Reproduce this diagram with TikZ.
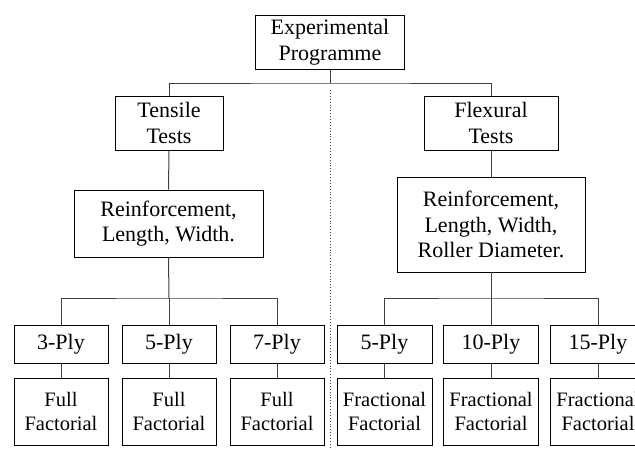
\documentclass[tikz,border=0pt]{standalone}
\usepackage{fontspec}
\setmainfont{Liberation Serif}
\begin{document}
\begin{tikzpicture}[x=1pt,y=-1pt,
  box/.style={draw=black,line width=0.8pt,rectangle,inner sep=0pt,align=center,
    font=\fontsize{22}{25.5}\selectfont},
  fbox/.style={box,font=\fontsize{20.5}{24}\selectfont},
  conn/.style={draw=black!75,line width=1pt},
  sep/.style={draw=black!70,line width=0.9pt,dotted}]
\useasboundingbox (0,0) rectangle (635,450);
\clip (0,0) rectangle (635,450);
\fill[white] (0,0) rectangle (635,450);
% top
\node[box,minimum width=149pt,minimum height=54pt] (exp) at (330,42) {Experimental\\Programme};
\node[box,minimum width=108pt,minimum height=54pt] (ten) at (169,123) {Tensile\\Tests};
\node[box,minimum width=134pt,minimum height=54pt] (flx) at (491,123) {Flexural\\Tests};
\node[box,minimum width=189pt,minimum height=67pt] (rl) at (168.5,223.5) {Reinforcement,\\Length, Width.};
\node[box,minimum width=188pt,minimum height=95pt] (rr) at (491,224.5) {Reinforcement,\\Length, Width,\\Roller Diameter.};
% plies left
\node[box,minimum width=94pt,minimum height=38pt] (p3) at (61,344) {3-Ply};
\node[box,minimum width=94pt,minimum height=38pt] (p5) at (169,344) {5-Ply};
\node[box,minimum width=94pt,minimum height=38pt] (p7) at (277,344) {7-Ply};
\node[fbox,minimum width=94pt,minimum height=67pt] (f3) at (61,411.5) {Full\\Factorial};
\node[fbox,minimum width=94pt,minimum height=67pt] (f5) at (169,411.5) {Full\\Factorial};
\node[fbox,minimum width=94pt,minimum height=67pt] (f7) at (277,411.5) {Full\\Factorial};
% plies right
\node[box,minimum width=95pt,minimum height=38pt] (q5) at (384.5,344) {5-Ply};
\node[box,minimum width=95pt,minimum height=38pt] (q10) at (491,344) {10-Ply};
\node[box,minimum width=95pt,minimum height=38pt] (q15) at (598,344) {15-Ply};
\node[fbox,minimum width=95pt,minimum height=67pt] (g5) at (384.5,411.5) {Fractional\\Factorial};
\node[fbox,minimum width=95pt,minimum height=67pt] (g10) at (491,411.5) {Fractional\\Factorial};
\node[fbox,minimum width=95pt,minimum height=67pt] (g15) at (598,411.5) {Fractional\\Factorial};
% junctions
\coordinate (j1) at (330,83);
\coordinate (j2) at (169,298);
\coordinate (j3) at (491,298);
\coordinate (s1) at (330,90);
\coordinate (s2) at (330,452);
% connectors
\draw[conn] (exp.south) -- (j1);
\draw[conn] (ten.north) |- (j1) -| (flx.north);
\draw[conn] (ten.south) -- (rl.north);
\draw[conn] (flx.south) -- (rr.north);
\draw[conn] (rl.south) -- (j2);
\draw[conn] (p3.north) |- (j2) -| (p7.north);
\draw[conn] (j2) -- (p5.north);
\draw[conn] (rr.south) -- (j3);
\draw[conn] (q5.north) |- (j3) -| (q15.north);
\draw[conn] (j3) -- (q10.north);
\draw[conn] (p3.south) -- (f3.north);
\draw[conn] (p5.south) -- (f5.north);
\draw[conn] (p7.south) -- (f7.north);
\draw[conn] (q5.south) -- (g5.north);
\draw[conn] (q10.south) -- (g10.north);
\draw[conn] (q15.south) -- (g15.north);
\draw[sep] (s1) -- (s2);
\end{tikzpicture}
\end{document}
